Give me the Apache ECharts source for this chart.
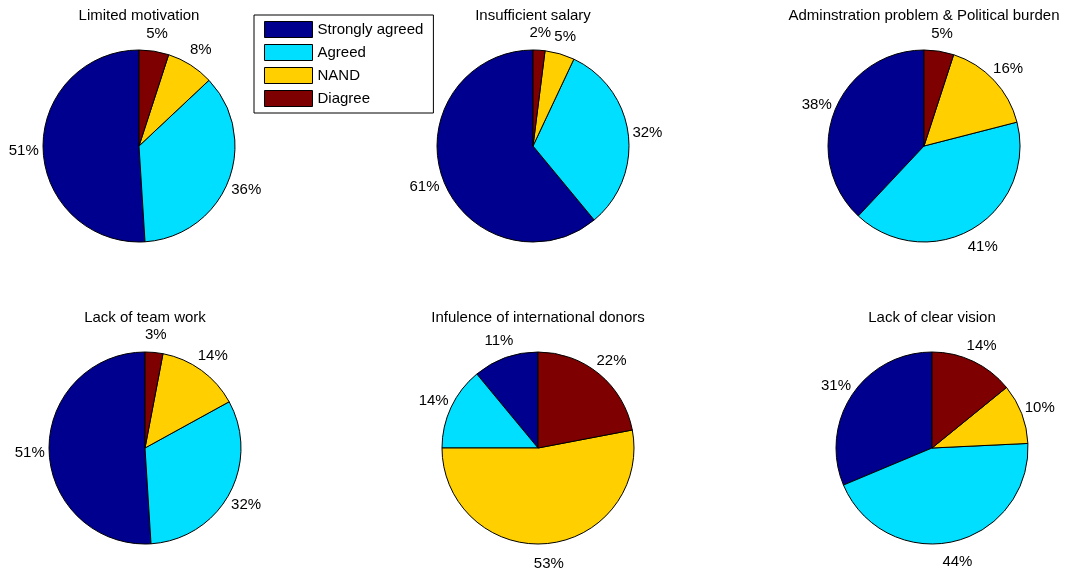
<!DOCTYPE html>
<html><head><meta charset="utf-8">
<script src="https://cdn.jsdelivr.net/npm/echarts@6/dist/echarts.min.js"></script>
<style>html,body{margin:0;padding:0;background:#fff}#c{width:1066px;height:571px}</style>
</head><body><div id="c"></div>
<script>
const categories = ['Strongly agreed', 'Agreed', 'NAND', 'Diagree'];
const titles = ['Limited motivation', 'Insufficient salary', 'Adminstration problem & Political burden',
  'Lack of team work', 'Infulence of international donors', 'Lack of clear vision'];
const limitedMotivation = [51, 36, 8, 5];
const insufficientSalary = [61, 32, 5, 2];
const adminPolitical = [38, 41, 16, 5];
const lackTeamWork = [51, 32, 14, 3];
const intlDonors = [11, 14, 53, 22];
const lackClearVision = [31, 44, 10, 14];
const allValues = [limitedMotivation, insufficientSalary, adminPolitical, lackTeamWork, intlDonors, lackClearVision];

const colors = ['#00008F', '#00DFFF', '#FFCF00', '#7F0000'];
const centers = [[139, 146], [533, 146], [924, 146], [145, 448], [538, 448], [932, 448]];
const R = 96;
const FONT = 'Liberation Sans, Arial, sans-serif';

const series = [];
const title = [];
allValues.forEach((vals, i) => {
  const data = vals.map((v, j) => ({ name: categories[j], value: v }));
  series.push({
    type: 'pie', center: centers[i], radius: [0, R], startAngle: 90, clockwise: false,
    avoidLabelOverlap: false, silent: true, animation: false,
    color: colors,
    itemStyle: { borderColor: '#000', borderWidth: 1 },
    label: { show: false }, labelLine: { show: false },
    emphasis: { disabled: true },
    data: data
  });
  series.push({
    type: 'pie', center: centers[i], radius: [R * 1.07, R * 1.27], startAngle: 90, clockwise: false,
    avoidLabelOverlap: false, silent: true, animation: false,
    color: colors,
    itemStyle: { color: 'rgba(0,0,0,0)', borderWidth: 0 },
    label: { show: true, position: 'inside', formatter: '{c}%', color: '#000', fontSize: 15, fontFamily: FONT, offset: [0, 1.5] },
    labelLine: { show: false },
    emphasis: { disabled: true },
    data: data
  });
  title.push({
    text: titles[i], left: centers[i][0], top: i < 3 ? 8 : 310, textAlign: 'center', padding: 0,
    textStyle: { fontSize: 15, fontWeight: 'normal', color: '#000', fontFamily: FONT }
  });
});

const chart = echarts.init(document.getElementById('c'));
chart.setOption({
  backgroundColor: '#fff',
  animation: false,
  title: title,
  legend: {
    data: categories, orient: 'vertical', left: 254, top: 15,
    itemWidth: 48, itemHeight: 16, itemGap: 6, padding: [6, 10, 6, 10],
    borderColor: '#000', borderWidth: 1, selectedMode: false,
    icon: 'rect',
    itemStyle: { borderColor: '#000', borderWidth: 1 },
    textStyle: { fontSize: 15, color: '#000', fontFamily: FONT }
  },
  series: series
});
</script></body></html>
